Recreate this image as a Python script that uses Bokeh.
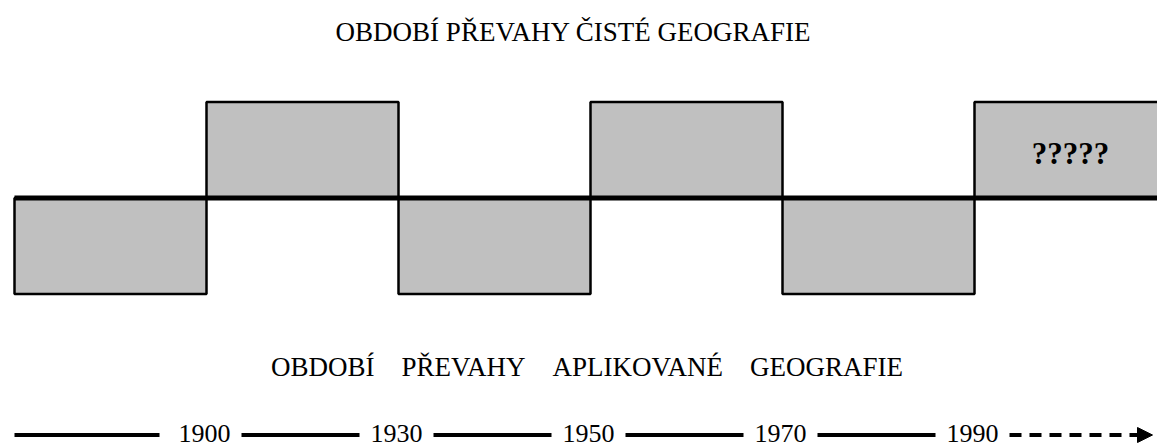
from bokeh.plotting import figure
from bokeh.models import Range1d, ColumnDataSource, Arrow, NormalHead
from bokeh.core.properties import value
from bokeh.embed import file_html
from bokeh.resources import INLINE

# ---------------- data ----------------
periods = ["do 1900", "1900–1930", "1930–1950", "1950–1970", "1970–1990", "po 1990"]
# +1 = převaha čisté geografie, -1 = převaha aplikované geografie
dominance = [-1, 1, -1, 1, -1, 1]
years = ["1900", "1930", "1950", "1970", "1990"]
title_pure = "OBDOBÍ PŘEVAHY ČISTÉ GEOGRAFIE"
title_applied = "OBDOBÍ\u2003PŘEVAHY\u2003APLIKOVANÉ\u2003GEOGRAFIE"
unknown_label = "?????"

# ---------------- layout helpers (screen px -> data units) ----------------
W, H = 1157, 448
OFF = 0                       # where the figure starts on the screenshot
UX, UY = 192.0, 96.0          # px per period, px per block height
OX, OY = 14.0, 197.5          # screen position of the origin
TDY = 10.0                    # text baseline correction (px)


def cx(sx):
    return (sx - OX) / UX


def cy(sy):
    return (OY - sy) / UY


def ty_(sy):
    return cy(sy - TDY)


FONT = value("Liberation Serif")

p = figure(width=W, height=H,
           x_range=Range1d(cx(OFF), cx(OFF + W)),
           y_range=Range1d(cy(OFF + H), cy(OFF)),
           output_backend="svg", toolbar_location=None,
           min_border=0, x_axis_location=None, y_axis_location=None,
           outline_line_color=None, background_fill_color="white",
           border_fill_color="white")
p.xgrid.visible = False
p.ygrid.visible = False

n = len(periods)
src = ColumnDataSource(dict(
    left=list(range(n)),
    right=[i + 1 for i in range(n)],
    top=[max(0, d) for d in dominance],
    bottom=[min(0, d) for d in dominance],
    period=periods,
))
p.quad(left="left", right="right", top="top", bottom="bottom", source=src,
       fill_color="#c0c0c0", line_color="black", line_width=2.5)

# main axis line
p.line(x=[0, n], y=[0, 0], line_color="black", line_width=5)

# "?????" in last (future) block
last = n - 1
p.text(x=[last + 0.5], y=[ty_(163)], text=[unknown_label],
       text_align="center", text_baseline="alphabetic", text_font=FONT,
       text_font_style="bold", text_font_size="31px", text_color="black")

# titles
p.text(x=[cx(573)], y=[ty_(41.7)], text=[title_pure], text_align="center",
       text_baseline="alphabetic", text_font=FONT, text_font_size="27px",
       text_color="black")
p.text(x=[cx(586.5)], y=[ty_(376.5)], text=[title_applied], text_align="center",
       text_baseline="alphabetic", text_font=FONT, text_font_size="27px",
       text_color="black")

# timeline
tl = cy(434.5)
yx = [i + 1 - 2.0 / UX for i in range(len(years))]
p.text(x=yx, y=[ty_(442.5)] * len(years), text=years, text_align="center",
       text_baseline="alphabetic", text_font=FONT, text_font_size="26px",
       text_color="black")

pad = 37.0 / UX
seg_x0 = [0] + [x + pad for x in yx[:-1]]
seg_x1 = [x - pad for x in yx]
seg_x1[0] -= 8.0 / UX
p.segment(x0=seg_x0, y0=[tl] * len(seg_x0), x1=seg_x1, y1=[tl] * len(seg_x1),
          line_color="black", line_width=4)

p.add_layout(Arrow(x_start=yx[-1] + pad, y_start=tl, x_end=cx(1152), y_end=tl,
                   line_color="black", line_width=4, line_dash="12 8",
                   end=NormalHead(size=15, fill_color="black",
                                  line_color="black", line_width=1)))

open("out.html", "w").write(file_html(p, INLINE))
